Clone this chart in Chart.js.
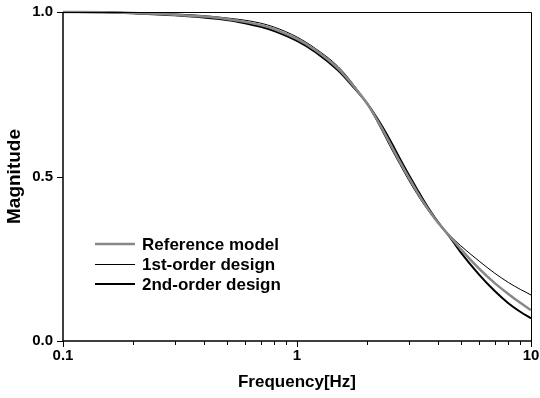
<!DOCTYPE html>
<html>
<head>
<meta charset="utf-8">
<script src="https://cdn.jsdelivr.net/npm/chart.js@4.4.1/dist/chart.umd.min.js"></script>
<style>
  html, body { margin: 0; padding: 0; background: #fff; }
</style>
</head>
<body>
<canvas id="magChart" width="540" height="398"></canvas>
<script>
// Frequency points (Hz) and magnitude of each response
const freqHz = [0.1, 0.15, 0.2, 0.3, 0.4, 0.5, 0.6, 0.7, 0.8, 1.0, 1.2, 1.5, 1.75, 2.0,
                2.25, 2.5, 2.75, 3.0, 3.25, 3.5, 4.0, 4.5, 5.0, 6.0, 7.0, 8.0, 9.0, 10.0];
const refModel = [1.000, 0.999, 0.997, 0.992, 0.986, 0.979, 0.970, 0.960, 0.948, 0.918, 0.884, 0.828, 0.774, 0.720,
                  0.660, 0.600, 0.545, 0.497, 0.455, 0.418, 0.360, 0.318, 0.280, 0.220, 0.176, 0.143, 0.116, 0.094];
const firstOrder = [1.000, 1.000, 0.998, 0.994, 0.989, 0.982, 0.975, 0.966, 0.954, 0.924, 0.889, 0.834, 0.778, 0.719,
                    0.654, 0.591, 0.537, 0.489, 0.448, 0.413, 0.359, 0.321, 0.290, 0.243, 0.206, 0.178, 0.157, 0.140];
const secondOrder = [1.000, 0.999, 0.996, 0.990, 0.983, 0.976, 0.966, 0.955, 0.942, 0.912, 0.878, 0.822, 0.770, 0.721,
                     0.666, 0.610, 0.555, 0.506, 0.463, 0.424, 0.362, 0.316, 0.270, 0.202, 0.152, 0.115, 0.089, 0.069];

const xTickLabels = [0.1, 1, 10];
const yTickLabels = [0, 0.5, 1];

const FONT = 'Liberation Sans, Arial, sans-serif';

function toPoints(values) {
    return freqHz.map((f, i) => ({ x: f, y: values[i] }));
}

// Frame, outward tick marks and the legend box inside the plot
const axisDecor = {
    id: 'axisDecor',
    afterDatasetsDraw(chart) {
        const ctx = chart.ctx;
        const a = chart.chartArea;
        const sx = chart.scales.x;
        const sy = chart.scales.y;
        ctx.save();
        ctx.strokeStyle = '#000';

        // top and right border
        ctx.lineWidth = 1;
        ctx.beginPath();
        ctx.moveTo(a.left, a.top + 0.5);
        ctx.lineTo(a.right + 0.5, a.top + 0.5);
        ctx.lineTo(a.right + 0.5, a.bottom);
        ctx.stroke();

        // left and bottom axis lines
        ctx.lineWidth = 1.5;
        ctx.beginPath();
        ctx.moveTo(a.left, a.top);
        ctx.lineTo(a.left, a.bottom);
        ctx.lineTo(a.right + 1, a.bottom);
        ctx.stroke();

        // x ticks: long at each decade, short in between
        ctx.lineWidth = 1;
        for (let dec = 0.1; dec < 10; dec *= 10) {
            for (let k = 1; k <= 10; k++) {
                const px = Math.round(sx.getPixelForValue(k * dec)) + 0.5;
                const len = (k === 1 || k === 10) ? 6 : 4;
                ctx.beginPath();
                ctx.moveTo(px, a.bottom);
                ctx.lineTo(px, a.bottom + len);
                ctx.stroke();
            }
        }
        // y ticks
        yTickLabels.forEach(v => {
            const py = Math.round(sy.getPixelForValue(v)) + 0.5;
            ctx.beginPath();
            ctx.moveTo(a.left - 6, py);
            ctx.lineTo(a.left, py);
            ctx.stroke();
        });

        // legend
        ctx.font = 'bold 17px ' + FONT;
        ctx.textBaseline = 'middle';
        ctx.fillStyle = '#000';
        chart.data.datasets.forEach((ds, i) => {
            const y = a.top + 232 + i * 20;
            const snap = ds.borderWidth % 2 === 1 ? 0.5 : 0;
            ctx.strokeStyle = ds.borderColor;
            ctx.lineWidth = ds.borderWidth;
            ctx.beginPath();
            ctx.moveTo(a.left + 32, y + snap);
            ctx.lineTo(a.left + 72, y + snap);
            ctx.stroke();
            ctx.fillText(ds.label, a.left + 79, y + 1);
        });
        ctx.restore();
    }
};

const magChart = new Chart(document.getElementById('magChart'), {
    type: 'line',
    data: {
        datasets: [
            {
                label: 'Reference model',
                data: toPoints(refModel),
                borderColor: '#888888',
                borderWidth: 2.5
            },
            {
                label: '1st-order design',
                data: toPoints(firstOrder),
                borderColor: '#000000',
                borderWidth: 1
            },
            {
                label: '2nd-order design',
                data: toPoints(secondOrder),
                borderColor: '#000000',
                borderWidth: 2
            }
        ]
    },
    options: {
        responsive: false,
        animation: false,
        layout: { padding: { top: 12, right: 9, left: 0, bottom: 0 } },
        elements: {
            point: { radius: 0 },
            line: { cubicInterpolationMode: 'monotone', fill: false }
        },
        datasets: { line: { clip: 4 } },
        plugins: {
            legend: { display: false },
            tooltip: { enabled: false }
        },
        scales: {
            x: {
                type: 'logarithmic',
                min: 0.1,
                max: 10,
                grid: { display: false, drawTicks: false },
                border: { display: false },
                afterBuildTicks: s => { s.ticks = xTickLabels.map(v => ({ value: v })); },
                afterFit: s => {
                    s.height = 57;
                    s.paddingLeft = 0;
                    s.paddingRight = 0;
                },
                ticks: {
                    autoSkip: false,
                    maxRotation: 0,
                    padding: 6,
                    color: '#000',
                    font: { family: FONT, size: 15, weight: 'bold' },
                    callback: v => String(v)
                },
                title: {
                    display: true,
                    text: 'Frequency[Hz]',
                    color: '#000',
                    font: { family: FONT, size: 17, weight: 'bold' },
                    padding: { top: 0, bottom: 5 }
                }
            },
            y: {
                min: 0,
                max: 1,
                grid: { display: false, drawTicks: false },
                border: { display: false },
                afterBuildTicks: s => { s.ticks = yTickLabels.map(v => ({ value: v })); },
                afterFit: s => {
                    s.width = 63;
                    s.paddingTop = 0;
                    s.paddingBottom = 0;
                },
                ticks: {
                    padding: 10,
                    color: '#000',
                    font: { family: FONT, size: 15, weight: 'bold' },
                    callback: v => v.toFixed(1)
                },
                title: {
                    display: true,
                    text: 'Magnitude',
                    color: '#000',
                    font: { family: FONT, size: 19, weight: 'bold' },
                    padding: { top: 3, bottom: 0 }
                }
            }
        }
    },
    plugins: [axisDecor]
});
</script>
</body>
</html>
